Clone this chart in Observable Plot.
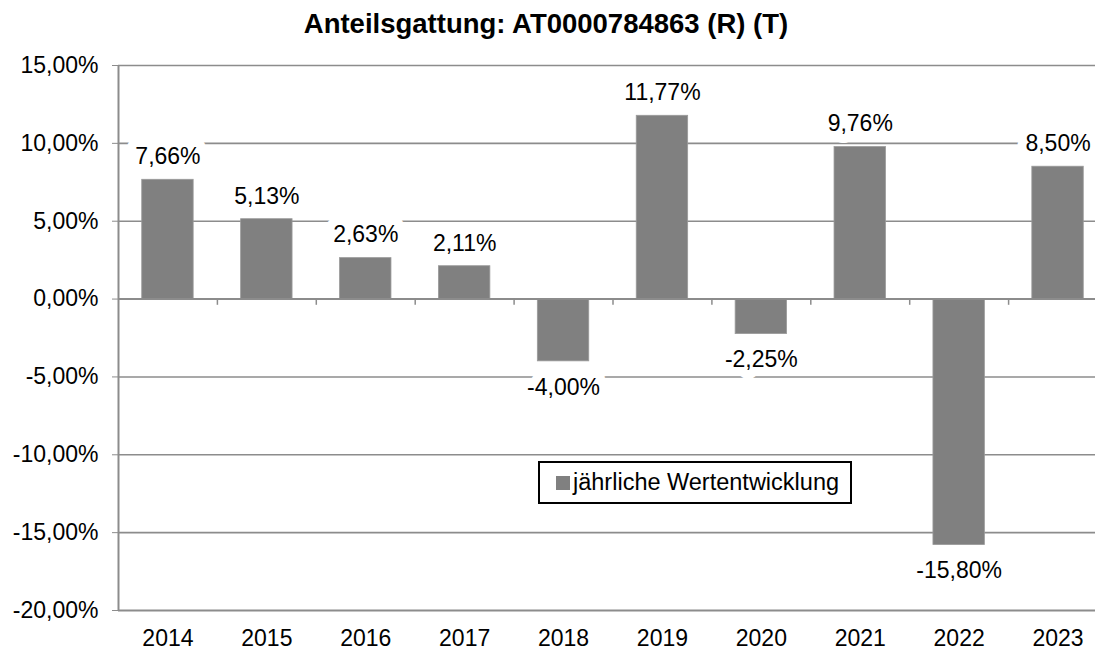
<!DOCTYPE html>
<html>
<head>
<meta charset="utf-8">
<script src="https://cdn.jsdelivr.net/npm/d3@7"></script>
<script src="https://cdn.jsdelivr.net/npm/@observablehq/plot@0.6"></script>
<style>
  html, body { margin: 0; padding: 0; background: #fff; }
  #wrap { position: relative; width: 1095px; height: 651px; overflow: hidden; font-family: "Liberation Sans", Arial, sans-serif; }
  #title { height: 50px; line-height: 48px; text-align: center; font-weight: bold; font-size: 27.5px; color: #000; padding-right: 3px; box-sizing: border-box; }
  #chart svg { display: block; }
  #legend { position: absolute; left: 538px; top: 461px; width: 314px; height: 43px; border: 2px solid #000; box-sizing: border-box; background: #fff; font-size: 23.5px; display: flex; align-items: center; white-space: nowrap; }
  #legend .sw { width: 14px; height: 14px; background: #808080; margin-left: 16px; margin-right: 3px; flex: none; }
</style>
</head>
<body>
<div id="wrap">
  <div id="title">Anteilsgattung: AT0000784863 (R) (T)</div>
  <div id="chart"></div>
  <div id="legend"><div class="sw"></div><span id="legtext"></span></div>
</div>
<script>
const years = ["2014","2015","2016","2017","2018","2019","2020","2021","2022","2023"];
const values = [7.66, 5.13, 2.63, 2.11, -4.00, 11.77, -2.25, 9.76, -15.80, 8.50];
const yTicks = [-20, -15, -10, -5, 0, 5, 10, 15];
const seriesName = "jährliche Wertentwicklung";

document.getElementById("legtext").textContent = seriesName;

const data = years.map((y, i) => ({year: y, value: values[i]}));
const loc = d3.formatLocale({decimal: ",", thousands: ".", grouping: [3], currency: ["", "€"], minus: "-"});
const f2 = loc.format(".2f");
const fmt = v => f2(v) + "%";

let chart;
try {
chart = Plot.plot({
  width: 1095,
  height: 601,
  marginTop: 15,
  marginBottom: 41,
  marginLeft: 118,
  marginRight: 0,
  style: {fontFamily: "'Liberation Sans', Arial, sans-serif", fontSize: "23px", color: "#000", background: "#fff"},
  x: {domain: years, range: [118, 1107], paddingInner: 0.48, paddingOuter: 0.24, round: false, axis: null},
  y: {domain: [-20, 15], range: [560, 15], axis: null},
  marks: [
    Plot.ruleY(yTicks.filter(t => t !== 0 && t !== -20), {stroke: "#8c8c8c", strokeWidth: 1.6}),
    Plot.barY(data, {x: "year", y: "value", fill: "#808080", stroke: "#9a9a9a", strokeWidth: 0.8}),
    Plot.ruleY([0], {stroke: "#8c8c8c", strokeWidth: 2}),
    Plot.ruleY([-20], {stroke: "#8c8c8c", strokeWidth: 2.2}),
    // left axis line
    Plot.ruleX([years[0]], {y1: -20, y2: 15, dx: -49.45, stroke: "#8c8c8c", strokeWidth: 2}),
    // y ticks
    Plot.axisY(yTicks, {tickFormat: fmt, tickSize: 6, tickPadding: 14, stroke: "#8c8c8c", fill: "#000", fontSize: 23, label: null}),
    // category boundary ticks on zero line
    Plot.ruleX(years.slice(1), {y1: 0, y2: -0.4, dx: -49.45, stroke: "#8c8c8c", strokeWidth: 1.5}),
    // category labels
    Plot.text(years, {x: d => d, y: -20, dy: 28, fontSize: 23, fill: "#000"}),
    // value labels
    Plot.text(data.filter(d => d.value >= 0), {x: "year", y: "value", text: d => fmt(d.value), dy: -23, fontSize: 23, fill: "#000", stroke: "white", strokeWidth: 18, strokeLinejoin: "round"}),
    Plot.text(data.filter(d => d.value < 0), {x: "year", y: "value", text: d => fmt(d.value), dy: 26, fontSize: 23, fill: "#000", stroke: "white", strokeWidth: 18, strokeLinejoin: "round"})
  ]
});
document.getElementById("chart").appendChild(chart);
} catch (e) {
  document.getElementById("chart").textContent = "ERR: " + e.message;
}
</script>
</body>
</html>
